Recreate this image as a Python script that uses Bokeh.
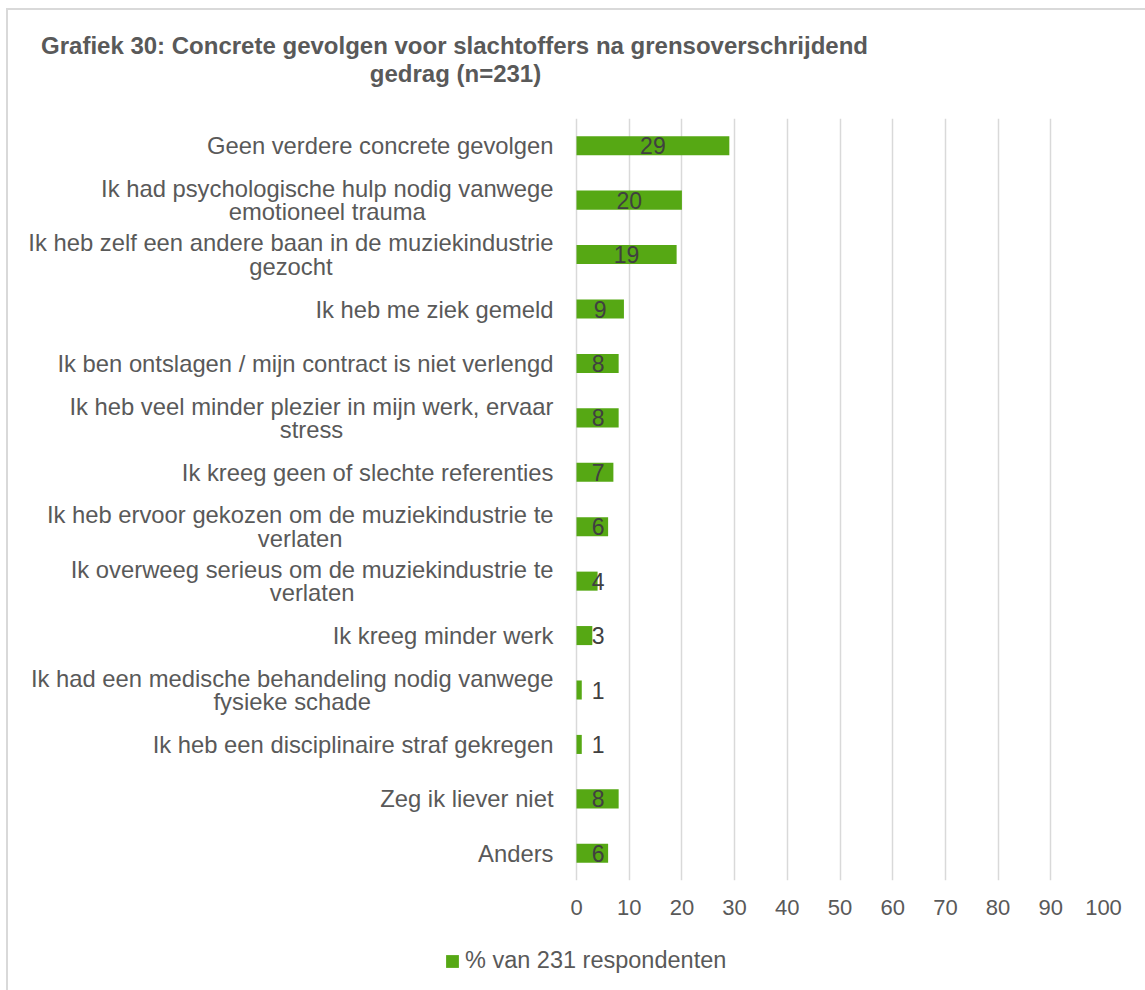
from bokeh.plotting import figure
from bokeh.layouts import column
from bokeh.models import (FactorRange, Range1d, ColumnDataSource, FixedTicker, Legend,
                          LegendItem, Label)
from bokeh.core.properties import value
from bokeh.embed import file_html
from bokeh.resources import INLINE

# ---- data ----
categories = [
    "Geen verdere concrete gevolgen",
    "Ik had psychologische hulp nodig vanwege emotioneel trauma",
    "Ik heb zelf een andere baan in de muziekindustrie gezocht",
    "Ik heb me ziek gemeld",
    "Ik ben ontslagen / mijn contract is niet verlengd",
    "Ik heb veel minder plezier in mijn werk, ervaar stress",
    "Ik kreeg geen of slechte referenties",
    "Ik heb ervoor gekozen om de muziekindustrie te verlaten",
    "Ik overweeg serieus om de muziekindustrie te verlaten",
    "Ik kreeg minder werk",
    "Ik had een medische behandeling nodig vanwege fysieke schade",
    "Ik heb een disciplinaire straf gekregen",
    "Zeg ik liever niet",
    "Anders",
]
label_lines = [
    ["Geen verdere concrete gevolgen"],
    ["Ik had psychologische hulp nodig vanwege", "emotioneel trauma"],
    ["Ik heb zelf een andere baan in de muziekindustrie", "gezocht"],
    ["Ik heb me ziek gemeld"],
    ["Ik ben ontslagen / mijn contract is niet verlengd"],
    ["Ik heb veel minder plezier in mijn werk, ervaar", "stress"],
    ["Ik kreeg geen of slechte referenties"],
    ["Ik heb ervoor gekozen om de muziekindustrie te", "verlaten"],
    ["Ik overweeg serieus om de muziekindustrie te", "verlaten"],
    ["Ik kreeg minder werk"],
    ["Ik had een medische behandeling nodig vanwege", "fysieke schade"],
    ["Ik heb een disciplinaire straf gekregen"],
    ["Zeg ik liever niet"],
    ["Anders"],
]
values = [29, 20, 19, 9, 8, 8, 7, 6, 4, 3, 1, 1, 8, 6]
x_ticks = [0, 10, 20, 30, 40, 50, 60, 70, 80, 90, 100]
series_name = "% van 231 respondenten"
title_line1 = "Grafiek 30: Concrete gevolgen voor slachtoffers na grensoverschrijdend"
title_line2 = "gedrag (n=231)"

# ---- styling / layout ----
FONT = "Liberation Sans"
GREEN = "#56A814"
TXT = "#595959"
CAT_FS = 23.8
LINE_H = 23.5
PX_PER_UNIT = 5.27          # pixels per x unit (0..100 spans 527 px)
LEFT_PAD_PX = 568           # frame extends this far left of x=0
LABEL_GAP = 23
WIDTH = 1137
TITLE_H = 108
MAIN_H = 817
LEG_H = 55

# Arial / Liberation Sans advance widths (per 1000 em)
W = dict(zip("abcdefghijklmnopqrstuvwxyz",
             [556, 556, 500, 556, 556, 278, 556, 556, 222, 222, 500, 222, 833,
              556, 556, 556, 556, 333, 500, 278, 556, 500, 722, 500, 500, 500]))
W.update({" ": 278, "/": 278, ",": 278, "I": 278, "G": 778, "Z": 611, "A": 667})


def text_w(s, fs):
    return sum(W.get(c, 556) for c in s) * fs / 1000.0


rows = dict(cat=[], txt=[], xo=[], yo=[])
for cat, lines in zip(categories, label_lines):
    center = -(LABEL_GAP + text_w(lines[0], CAT_FS) / 2.0)
    n = len(lines)
    for k, ln in enumerate(lines):
        rows["cat"].append(cat)
        rows["txt"].append(ln)
        rows["xo"].append(center)
        rows["yo"].append((k - (n - 1) / 2.0) * LINE_H)
label_src = ColumnDataSource(rows)

label_x = [max(v / 2.0, 4.1) for v in values]
source = ColumnDataSource(dict(cat=categories, val=values, lx=label_x,
                               txt=[str(v) for v in values]))


def blank(fig):
    fig.outline_line_color = None
    fig.background_fill_color = "white"
    fig.border_fill_color = "white"
    return fig


# ---- title strip ----
pt = blank(figure(width=WIDTH, height=TITLE_H, output_backend="svg", toolbar_location=None,
                  x_range=Range1d(0, 1), y_range=Range1d(0, 1),
                  min_border=0, x_axis_type=None, y_axis_type=None))
pt.grid.visible = False
for txt, x, y in [(title_line1, 446, 73), (title_line2, 447, 45)]:
    pt.add_layout(Label(x=x, y=y, x_units="screen", y_units="screen", text=txt,
                        text_align="center", text_baseline="middle",
                        text_font=FONT, text_font_size="24px", text_font_style="bold",
                        text_color=TXT))

# ---- main chart ----
p = blank(figure(width=WIDTH, height=MAIN_H, output_backend="svg", toolbar_location=None,
                 y_range=FactorRange(factors=list(reversed(categories))),
                 x_range=Range1d(-LEFT_PAD_PX / PX_PER_UNIT, 100),
                 min_border_left=0, min_border_right=42,
                 min_border_top=0, min_border_bottom=LEG_H))

bars = p.hbar(y="cat", right="val", left=0, height=0.35, source=source,
              fill_color=GREEN, line_color=None)

p.text(x="lx", y="cat", text="txt", source=source, text_align="center",
       text_baseline="middle", text_color="#404040", text_font=value(FONT),
       text_font_size="23px")

p.text(x=0, y="cat", text="txt", x_offset="xo", y_offset="yo", source=label_src,
       text_align="center", text_baseline="middle", text_color=TXT,
       text_font=value(FONT), text_font_size=f"{CAT_FS}px")

p.yaxis.visible = False
p.xaxis.ticker = FixedTicker(ticks=x_ticks)
p.xaxis.axis_line_color = None
p.xaxis.major_tick_line_color = None
p.xaxis.minor_tick_line_color = None
p.xaxis.major_tick_out = 0
p.xaxis.major_tick_in = 0
p.xaxis.major_label_standoff = 19
p.xaxis.major_label_text_font = FONT
p.xaxis.major_label_text_font_size = "22px"
p.xaxis.major_label_text_color = TXT

p.xgrid.grid_line_color = "#d9d9d9"
p.xgrid.grid_line_width = 1.5
p.ygrid.grid_line_color = None

# ---- legend strip: a zero-height copy of the bar series only supplies the swatch ----
pl = blank(figure(width=WIDTH, height=LEG_H, output_backend="svg", toolbar_location=None,
                  y_range=FactorRange(factors=list(reversed(categories))),
                  x_range=Range1d(1000, 1001),
                  min_border=0, x_axis_type=None, y_axis_type=None))
pl.grid.visible = False
leg_bars = pl.hbar(y="cat", right="val", left=0, height=0, source=source,
                   fill_color=GREEN, line_color=None)
legend = Legend(items=[LegendItem(label=series_name, renderers=[leg_bars])],
                location=(436, 16), orientation="horizontal",
                glyph_width=16, glyph_height=16, label_height=16, label_standoff=5,
                label_text_font=FONT, label_text_font_size="23.5px",
                label_text_color=TXT, border_line_color=None,
                background_fill_alpha=0, padding=0, margin=0, spacing=0)
pl.add_layout(legend, "center")

layout = column(pt, p, pl, spacing=0)
layout.styles = {"margin-left": "6px", "margin-top": "8px",
                 "border-left": "2px solid #d9d9d9", "border-top": "2px solid #d9d9d9"}

open("out.html", "w").write(file_html(layout, INLINE))
